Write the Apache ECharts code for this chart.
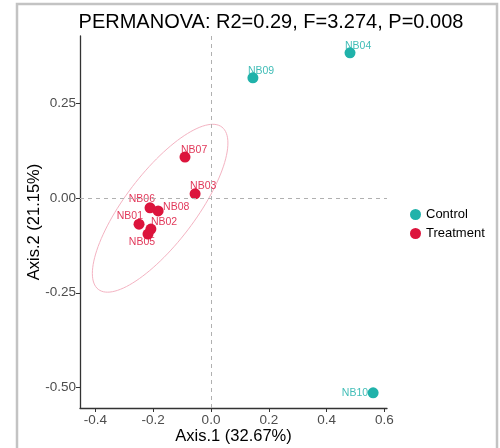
<!DOCTYPE html>
<html>
<head>
<meta charset="utf-8">
<script src="https://cdn.jsdelivr.net/npm/echarts@6/dist/echarts.min.js"></script>
<style>
html, body { margin: 0; padding: 0; background: #fff; }
#main { width: 500px; height: 448px; }
</style>
</head>
<body>
<div id="main"></div>
<script>
// sample data
var sampleNames = ['NB04', 'NB09', 'NB10', 'NB07', 'NB03', 'NB06', 'NB08', 'NB01', 'NB02', 'NB05'];
var sampleGroup = ['Control', 'Control', 'Control', 'Treatment', 'Treatment', 'Treatment', 'Treatment', 'Treatment', 'Treatment', 'Treatment'];
var axis1 = [0.481, 0.145, 0.561, -0.090, -0.055, -0.211, -0.183, -0.249, -0.208, -0.218];
var axis2 = [0.383, 0.317, -0.514, 0.108, 0.011, -0.026, -0.034, -0.069, -0.082, -0.095];
var groups = ['Control', 'Treatment'];
var xTicks = [-0.4, -0.2, 0, 0.2, 0.4, 0.6];
var yTicks = [-0.5, -0.25, 0, 0.25];
// treatment ellipse: centre and two conjugate semi axes (data units)
var ellipseCenter = [-0.176, -0.027];
var ellipseU = [0.214, 0.214];
var ellipseV = [0.096, -0.057];

var colors = { Control: '#20B2AA', Treatment: '#DC143C' };
// label placement (align, dx, dy in pixels from point centre), like ggrepel did it
var labelPos = {
    NB04: ['left', -5, -7], NB09: ['left', -5, -7], NB10: ['right', -5, 0],
    NB07: ['left', -4, -7], NB03: ['left', -5, -8], NB06: ['right', 5, -9],
    NB08: ['left', 5, -4], NB01: ['right', 4, -8], NB02: ['left', 0, -7],
    NB05: ['center', -6, 8]
};
var symSize = 11;

var chart = echarts.init(document.getElementById('main'));

function groupData(g) {
    var out = [];
    for (var i = 0; i < sampleNames.length; i++) {
        if (sampleGroup[i] !== g) continue;
        var p = labelPos[sampleNames[i]];
        out.push({
            name: sampleNames[i],
            value: [axis1[i], axis2[i]],
            label: { position: [symSize / 2 + p[1], symSize / 2 + p[2]], align: p[0], verticalAlign: 'middle' }
        });
    }
    return out;
}

var series = [];
series.push({
    type: 'custom',
    silent: true,
    z: 1,
    data: [ellipseCenter],
    renderItem: function (params, api) {
        var pts = [];
        for (var k = 0; k <= 120; k++) {
            var t = k / 120 * Math.PI * 2;
            pts.push(api.coord([
                ellipseCenter[0] + ellipseU[0] * Math.cos(t) + ellipseV[0] * Math.sin(t),
                ellipseCenter[1] + ellipseU[1] * Math.cos(t) + ellipseV[1] * Math.sin(t)
            ]));
        }
        return {
            type: 'polygon',
            shape: { points: pts },
            style: { fill: 'none', stroke: '#f4b3c2', lineWidth: 1 }
        };
    }
});
groups.forEach(function (g, gi) {
    series.push({
        name: g,
        type: 'scatter',
        symbol: 'circle',
        symbolSize: symSize,
        z: 3,
        itemStyle: { color: colors[g], opacity: 1 },
        label: {
            show: true,
            formatter: '{b}',
            fontSize: 10.5,
            fontFamily: 'Liberation Sans',
            color: colors[g],
            opacity: 0.85
        },
        labelLayout: { hideOverlap: false },
        emphasis: { disabled: true },
        data: groupData(g),
        markLine: gi === 0 ? {
            silent: true,
            symbol: 'none',
            label: { show: false },
            lineStyle: { color: '#b0b0b0', type: [4, 4], width: 1 },
            data: [{ xAxis: 0 }, { yAxis: 0 }]
        } : undefined
    });
});

var option = {
    backgroundColor: '#fff',
    animation: false,
    textStyle: { fontFamily: 'Liberation Sans' },
    title: {
        text: 'PERMANOVA: R2=0.29, F=3.274, P=0.008',
        left: 266,
        top: 7,
        textAlign: 'center',
        textStyle: { fontSize: 20, fontWeight: 'normal', color: '#000', fontFamily: 'Liberation Sans' }
    },
    graphic: [{
        type: 'rect',
        silent: true,
        shape: { x: 17, y: 4, width: 480, height: 470 },
        style: { fill: 'none', stroke: '#c3c3c3', lineWidth: 2.5 }
    }],
    legend: {
        orient: 'vertical',
        left: 405,
        top: 203,
        icon: 'circle',
        itemWidth: 11,
        itemHeight: 11,
        itemGap: 6,
        data: groups,
        textStyle: { fontSize: 13, color: '#000', fontFamily: 'Liberation Sans' }
    },
    grid: { left: 80, right: 113, top: 36, bottom: 40, outerBoundsMode: 'none' },
    xAxis: {
        type: 'value',
        min: -0.4533,
        max: 0.609,
        name: 'Axis.1 (32.67%)',
        nameLocation: 'middle',
        nameGap: 20,
        nameMoveOverlap: false,
        nameTextStyle: { fontSize: 16.5, color: '#000' },
        axisLine: { show: true, onZero: false, lineStyle: { color: '#333', width: 1.3 } },
        axisTick: { show: true, length: 4, customValues: xTicks, lineStyle: { color: '#333' } },
        axisLabel: {
            customValues: xTicks,
            fontSize: 13.5,
            color: '#4d4d4d',
            margin: 5,
            formatter: function (v) { return v.toFixed(1); }
        },
        splitLine: { show: false }
    },
    yAxis: {
        type: 'value',
        min: -0.554,
        max: 0.4274,
        name: 'Axis.2 (21.15%)',
        nameLocation: 'middle',
        nameGap: 37,
        nameMoveOverlap: false,
        nameTextStyle: { fontSize: 16.5, color: '#000' },
        axisLine: { show: true, onZero: false, lineStyle: { color: '#333', width: 1.3 } },
        axisTick: { show: true, length: 4, customValues: yTicks, lineStyle: { color: '#333' } },
        axisLabel: {
            customValues: yTicks,
            fontSize: 13.5,
            color: '#4d4d4d',
            margin: 4,
            formatter: function (v) { return v.toFixed(2); }
        },
        splitLine: { show: false }
    },
    series: series
};

chart.setOption(option);
</script>
</body>
</html>
